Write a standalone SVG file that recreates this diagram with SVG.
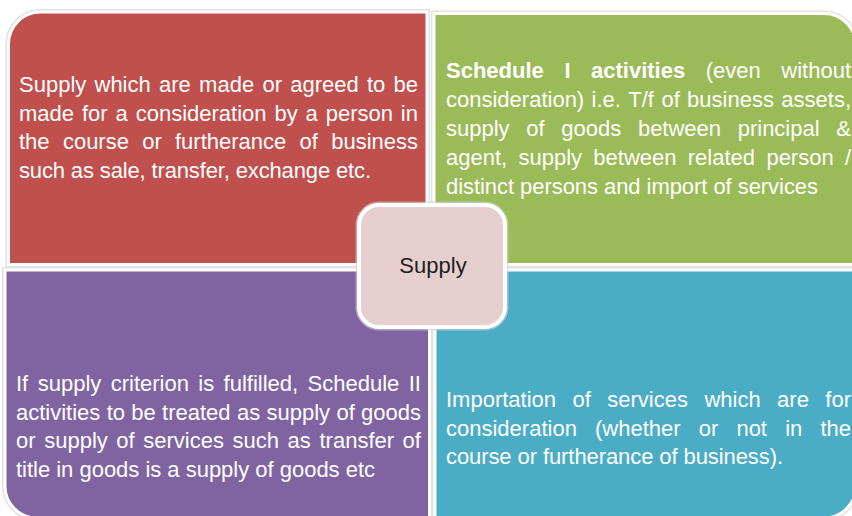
<svg xmlns="http://www.w3.org/2000/svg" width="852" height="516" viewBox="0 0 852 516">
  <style>
    .ring { fill: none; stroke: #e2e2e2; stroke-width: 6; }
    .panel { stroke: #ffffff; stroke-width: 3; }
    .body { font-family: "Liberation Sans", Arial, sans-serif; font-size: 22px; fill: #ffffff; }
    .strong { font-weight: bold; }
    .hub-text { font-family: "Liberation Sans", Arial, sans-serif; font-size: 22px; fill: #1e1e1e; }
  </style>
  <rect width="852" height="516" fill="#ffffff"/>

  <!-- top-left quadrant -->
  <g id="node-sales">
    <path class="ring" d="M 8.5 44 A 32 32 0 0 1 40.5 12 L 427 12 L 427 264.5 L 8.5 264.5 Z"/>
    <path class="panel" fill="#C0504D" d="M 8.5 44 A 32 32 0 0 1 40.5 12 L 427 12 L 427 264.5 L 8.5 264.5 Z"/>
    <!-- justified lines: one tspan per word -->
    <text class="body">
      <tspan y="92" x="19">Supply</tspan><tspan x="94.5">which</tspan><tspan x="159">are</tspan><tspan x="199.1">made</tspan><tspan x="262.4">or</tspan><tspan x="290.2">agreed</tspan><tspan x="366.9">to</tspan><tspan x="393.5">be</tspan>
      <tspan y="120.5" x="19">made</tspan><tspan x="81.9">for</tspan><tspan x="115.5">a</tspan><tspan x="135.7">consideration</tspan><tspan x="274.4">by</tspan><tspan x="305.5">a</tspan><tspan x="325.7">person</tspan><tspan x="400.8">in</tspan>
      <tspan y="149" x="19">the</tspan><tspan x="62.9">course</tspan><tspan x="142.2">or</tspan><tspan x="175">furtherance</tspan><tspan x="299.6">of</tspan><tspan x="331.2">business</tspan>
    </text>
    <text class="body" x="19" y="177.5" textLength="352" lengthAdjust="spacing">such as sale, transfer, exchange etc.</text>
  </g>

  <!-- top-right quadrant -->
  <g id="node-schedule-one">
    <path class="ring" d="M 434 13.5 L 824 13.5 A 32 32 0 0 1 856 45.5 L 856 264.5 L 434 264.5 Z"/>
    <path class="panel" fill="#9BBB59" d="M 434 13.5 L 824 13.5 A 32 32 0 0 1 856 45.5 L 856 264.5 L 434 264.5 Z"/>
    <text class="body">
      <tspan y="78" x="446" class="strong">Schedule</tspan><tspan x="564.4" class="strong">I</tspan><tspan x="591" class="strong">activities</tspan><tspan x="705.7">(even</tspan><tspan x="781.3">without</tspan>
      <tspan y="107" x="446">consideration)</tspan><tspan x="591.6">i.e.</tspan><tspan x="628.3">T/f</tspan><tspan x="661.4">of</tspan><tspan x="687.1">business</tspan><tspan x="781.3">assets,</tspan>
      <tspan y="136" x="446">supply</tspan><tspan x="526.3">of</tspan><tspan x="561.3">goods</tspan><tspan x="637.9">between</tspan><tspan x="737.7">principal</tspan><tspan x="836.3">&amp;</tspan>
      <tspan y="165" x="446">agent,</tspan><tspan x="518.5">supply</tspan><tspan x="593.3">between</tspan><tspan x="687.8">related</tspan><tspan x="766.4">person</tspan><tspan x="844.9">/</tspan>
    </text>
    <text class="body" x="446" y="194" textLength="372" lengthAdjust="spacing">distinct persons and import of services</text>
  </g>

  <!-- bottom-left quadrant -->
  <g id="node-schedule-two">
    <path class="ring" d="M 5 270 L 429.5 270 L 429.5 518 L 37 518 A 32 32 0 0 1 5 486 Z"/>
    <path class="panel" fill="#8064A2" d="M 5 270 L 429.5 270 L 429.5 518 L 37 518 A 32 32 0 0 1 5 486 Z"/>
    <text class="body">
      <tspan y="391" x="16">If</tspan><tspan x="37.7">supply</tspan><tspan x="110.7">criterion</tspan><tspan x="198.3">is</tspan><tspan x="223.6">fulfilled,</tspan><tspan x="307.6">Schedule</tspan><tspan x="408.7">II</tspan>
      <tspan y="419.5" x="16">activities</tspan><tspan x="106.7">to</tspan><tspan x="131.3">be</tspan><tspan x="162.1">treated</tspan><tspan x="236.9">as</tspan><tspan x="266.5">supply</tspan><tspan x="336.4">of</tspan><tspan x="361.1">goods</tspan>
      <tspan y="448" x="16">or</tspan><tspan x="44.2">supply</tspan><tspan x="116.3">of</tspan><tspan x="143.3">services</tspan><tspan x="232.6">such</tspan><tspan x="287.6">as</tspan><tspan x="319.5">transfer</tspan><tspan x="402.6">of</tspan>
    </text>
    <text class="body" x="16" y="476.5" textLength="359" lengthAdjust="spacing">title in goods is a supply of goods etc</text>
  </g>

  <!-- bottom-right quadrant -->
  <g id="node-import">
    <path class="ring" d="M 435 270 L 856 270 L 856 486 A 32 32 0 0 1 824 518 L 435 518 Z"/>
    <path class="panel" fill="#4BACC6" d="M 435 270 L 856 270 L 856 486 A 32 32 0 0 1 824 518 L 435 518 Z"/>
    <text class="body">
      <tspan y="407" x="446">Importation</tspan><tspan x="572.5">of</tspan><tspan x="607.3">services</tspan><tspan x="704.4">which</tspan><tspan x="777.1">are</tspan><tspan x="825.3">for</tspan>
      <tspan y="435.5" x="446">consideration</tspan><tspan x="595">(whether</tspan><tspan x="698.7">or</tspan><tspan x="736.4">not</tspan><tspan x="785.2">in</tspan><tspan x="820.4">the</tspan>
    </text>
    <text class="body" x="446" y="464" textLength="337" lengthAdjust="spacing">course or furtherance of business).</text>
  </g>

  <!-- central hub -->
  <g id="node-supply">
    <rect x="359" y="205" width="146" height="122" rx="20" ry="20" fill="none" stroke="#d4d4d4" stroke-width="7" opacity="0.6"/>
    <rect x="359" y="205" width="146" height="122" rx="20" ry="20" fill="#E7CFD0" stroke="#ffffff" stroke-width="4"/>
    <text class="hub-text" x="433" y="273" text-anchor="middle">Supply</text>
  </g>
</svg>
